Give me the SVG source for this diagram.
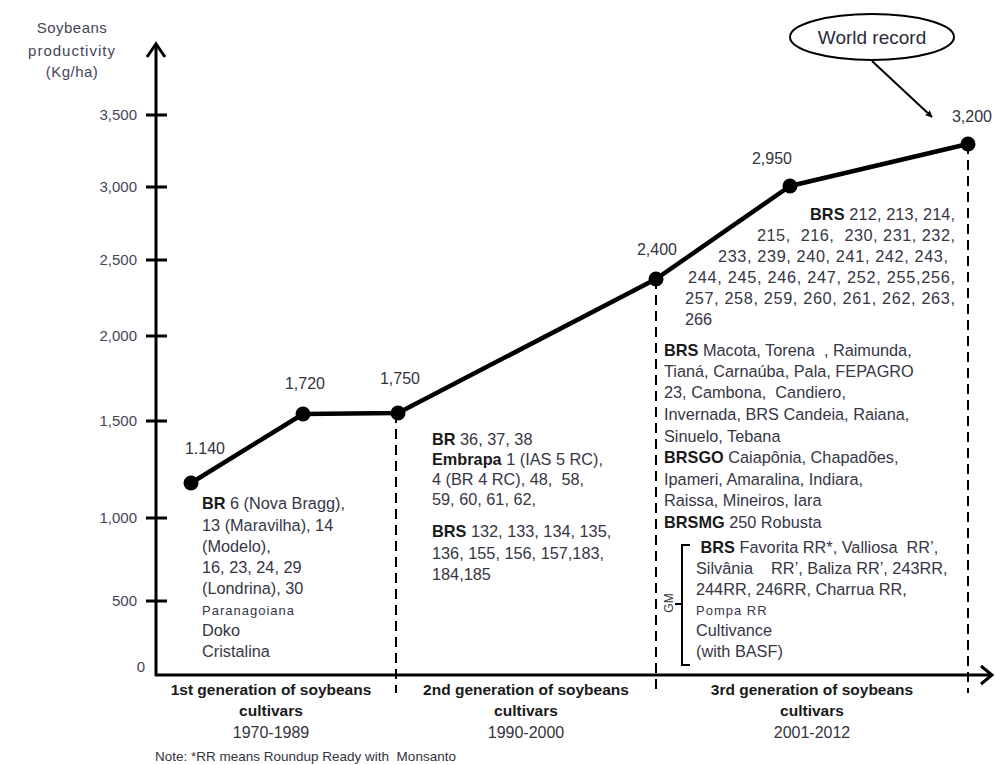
<svg xmlns="http://www.w3.org/2000/svg" width="996" height="765" viewBox="0 0 996 765">
<style>
  text { font-family: "Liberation Sans", Arial, sans-serif; white-space: pre; }
  .ax { font-size: 15px; fill: #45455a; }
  .yl { font-size: 15px; fill: #45455a; text-anchor: end; }
  .val { font-size: 16px; fill: #333340; text-anchor: middle; }
  .blk { font-size: 16.3px; fill: #363645; }
  .b { font-weight: bold; fill: #1a1a1a; }
  .sm { font-size: 13px; letter-spacing: 1px; }
  .gen { font-size: 15.5px; font-weight: bold; fill: #1a1a1a; text-anchor: middle; }
  .yr { font-size: 16px; fill: #333340; text-anchor: middle; }
  .axis { stroke: #000; stroke-width: 3; fill: none; }
  .tick { stroke: #000; stroke-width: 3; }
  .dash { stroke: #000; stroke-width: 2; stroke-dasharray: 10 6; fill: none; }
  .series { stroke: #000; stroke-width: 4.5; fill: none; stroke-linejoin: round; }
  .dot { fill: #000; }
</style>
<defs>
  <marker id="ah" viewBox="0 0 10 10" refX="9" refY="5" markerWidth="7" markerHeight="7" orient="auto" markerUnits="userSpaceOnUse">
    <path d="M0,0 L10,5 L0,10 z" fill="#000"/>
  </marker>
</defs>
<rect width="996" height="765" fill="#fff"/>

<!-- axes -->
<g id="axes">
  <line class="axis" x1="156" y1="45" x2="156" y2="676"/>
  <polyline class="axis" points="147,57 156,44 165,57"/>
  <line class="axis" x1="155" y1="675" x2="991" y2="675"/>
  <polyline class="axis" points="981,666 992,675 981,684"/>
  <line class="tick" x1="146" y1="115" x2="167" y2="115"/>
  <line class="tick" x1="146" y1="187" x2="167" y2="187"/>
  <line class="tick" x1="146" y1="260" x2="167" y2="260"/>
  <line class="tick" x1="146" y1="336" x2="167" y2="336"/>
  <line class="tick" x1="146" y1="421" x2="167" y2="421"/>
  <line class="tick" x1="146" y1="518" x2="167" y2="518"/>
  <line class="tick" x1="146" y1="601" x2="167" y2="601"/>
  <text class="yl" x="137" y="120">3,500</text>
  <text class="yl" x="137" y="192">3,000</text>
  <text class="yl" x="137" y="265">2,500</text>
  <text class="yl" x="137" y="341">2,000</text>
  <text class="yl" x="137" y="426">1,500</text>
  <text class="yl" x="137" y="523">1,000</text>
  <text class="yl" x="137" y="606">500</text>
  <text class="yl" x="145" y="672">0</text>
  <text class="ax" x="72" y="33" text-anchor="middle" letter-spacing="0.5">Soybeans</text>
  <text class="ax" x="72" y="56" text-anchor="middle" letter-spacing="1">productivity</text>
  <text class="ax" x="72" y="77" text-anchor="middle" letter-spacing="0.5">(Kg/ha)</text>
</g>

<!-- connectors -->
<g id="connectors">
  <polyline class="series" points="191,483 303,414 398,413 656,279 790,186 968,144"/>
  <line class="dash" x1="396" y1="413" x2="396" y2="693"/>
  <line class="dash" x1="656" y1="279" x2="656" y2="693"/>
  <line class="dash" x1="968" y1="144" x2="968" y2="693"/>
  <line x1="872" y1="61" x2="932" y2="117" stroke="#000" stroke-width="2" marker-end="url(#ah)"/>
</g>

<!-- data points -->
<g id="p1140"><circle class="dot" cx="191" cy="483" r="7.5"/><text class="val" x="205" y="454">1.140</text></g>
<g id="p1720"><circle class="dot" cx="303" cy="414" r="7.5"/><text class="val" x="305" y="389">1,720</text></g>
<g id="p1750"><circle class="dot" cx="398" cy="413" r="7.5"/><text class="val" x="400" y="384">1,750</text></g>
<g id="p2400"><circle class="dot" cx="656" cy="279" r="7.5"/><text class="val" x="657" y="255">2,400</text></g>
<g id="p2950"><circle class="dot" cx="790" cy="186" r="7.5"/><text class="val" x="772" y="164">2,950</text></g>
<g id="p3200"><circle class="dot" cx="968" cy="144" r="7.5"/><text class="val" x="972" y="122">3,200</text></g>

<g id="world-record">
  <ellipse cx="872" cy="37" rx="82" ry="23" fill="#fff" stroke="#000" stroke-width="2"/>
  <text x="872" y="44" font-size="19px" fill="#2a2a3a" text-anchor="middle">World record</text>
</g>

<!-- 1st generation cultivars -->
<g id="gen1-cultivars">
  <text class="blk" x="202" y="509"><tspan class="b">BR</tspan> 6 (Nova Bragg),</text>
  <text class="blk" x="202" y="531">13 (Maravilha), 14</text>
  <text class="blk" x="202" y="552">(Modelo),</text>
  <text class="blk" x="202" y="573">16, 23, 24, 29</text>
  <text class="blk" x="202" y="594">(Londrina), 30</text>
  <text class="blk sm" x="202" y="615">Paranagoiana</text>
  <text class="blk" x="202" y="636">Doko</text>
  <text class="blk" x="202" y="657">Cristalina</text>
</g>

<!-- 2nd generation cultivars -->
<g id="gen2-cultivars">
  <text class="blk" x="432" y="445"><tspan class="b">BR</tspan> 36, 37, 38</text>
  <text class="blk" x="432" y="465"><tspan class="b">Embrapa</tspan> 1 (IAS 5 RC),</text>
  <text class="blk" x="432" y="485">4 (BR 4 RC), 48,  58,</text>
  <text class="blk" x="432" y="505">59, 60, 61, 62,</text>
  <text class="blk" x="432" y="537"><tspan class="b">BRS</tspan> 132, 133, 134, 135,</text>
  <text class="blk" x="432" y="559">136, 155, 156, 157,183,</text>
  <text class="blk" x="432" y="580">184,185</text>
</g>

<!-- 3rd generation cultivars -->
<g id="gen3-brs-numbers">
  <text class="blk" x="810" y="220" textLength="145" lengthAdjust="spacing"><tspan class="b">BRS</tspan> 212, 213, 214,</text>
  <text class="blk" x="757" y="241" textLength="198" lengthAdjust="spacing">215,  216,  230, 231, 232,</text>
  <text class="blk" x="718" y="262" textLength="230" lengthAdjust="spacing">233, 239, 240, 241, 242, 243,</text>
  <text class="blk" x="688" y="283" textLength="267" lengthAdjust="spacing">244, 245, 246, 247, 252, 255,256,</text>
  <text class="blk" x="685" y="304" textLength="270" lengthAdjust="spacing">257, 258, 259, 260, 261, 262, 263,</text>
  <text class="blk" x="685" y="325">266</text>
</g>
<g id="gen3-brs-names">
  <text class="blk" x="664" y="356"><tspan class="b">BRS</tspan> Macota, Torena  , Raimunda,</text>
  <text class="blk" x="664" y="377">Tianá, Carnaúba, Pala, FEPAGRO</text>
  <text class="blk" x="664" y="398">23, Cambona,  Candiero,</text>
  <text class="blk" x="664" y="420">Invernada, BRS Candeia, Raiana,</text>
  <text class="blk" x="664" y="442">Sinuelo, Tebana</text>
  <text class="blk" x="664" y="463"><tspan class="b">BRSGO</tspan> Caiapônia, Chapadões,</text>
  <text class="blk" x="664" y="485">Ipameri, Amaralina, Indiara,</text>
  <text class="blk" x="664" y="506">Raissa, Mineiros, Iara</text>
  <text class="blk" x="664" y="528"><tspan class="b">BRSMG</tspan> 250 Robusta</text>
</g>
<g id="gen3-gm">
  <path d="M690,545 L682,545 L682,665 L690,665 M682,604 L675,604" stroke="#000" stroke-width="2" fill="none"/>
  <text x="669" y="603" font-size="12px" fill="#363645" text-anchor="middle" transform="rotate(-90 669 603)" dy="4">GM</text>
  <text class="blk" x="696" y="553"> <tspan class="b">BRS</tspan> Favorita RR*, Valliosa  RR’,</text>
  <text class="blk" x="696" y="574">Silvânia    RR’, Baliza RR’, 243RR,</text>
  <text class="blk" x="696" y="595">244RR, 246RR, Charrua RR,</text>
  <text class="blk sm" x="696" y="615">Pompa RR</text>
  <text class="blk" x="696" y="636">Cultivance</text>
  <text class="blk" x="696" y="657">(with BASF)</text>
</g>

<!-- generation labels -->
<g id="gen-labels">
  <text class="gen" x="271" y="695">1st generation of soybeans</text>
  <text class="gen" x="271" y="716">cultivars</text>
  <text class="yr" x="271" y="738">1970-1989</text>
  <text class="gen" x="526" y="695">2nd generation of soybeans</text>
  <text class="gen" x="526" y="716">cultivars</text>
  <text class="yr" x="526" y="738">1990-2000</text>
  <text class="gen" x="812" y="695">3rd generation of soybeans</text>
  <text class="gen" x="812" y="716">cultivars</text>
  <text class="yr" x="812" y="738">2001-2012</text>
  <text x="155" y="761" font-size="13.5px" fill="#333340">Note: *RR means Roundup Ready with  Monsanto</text>
</g>
</svg>
